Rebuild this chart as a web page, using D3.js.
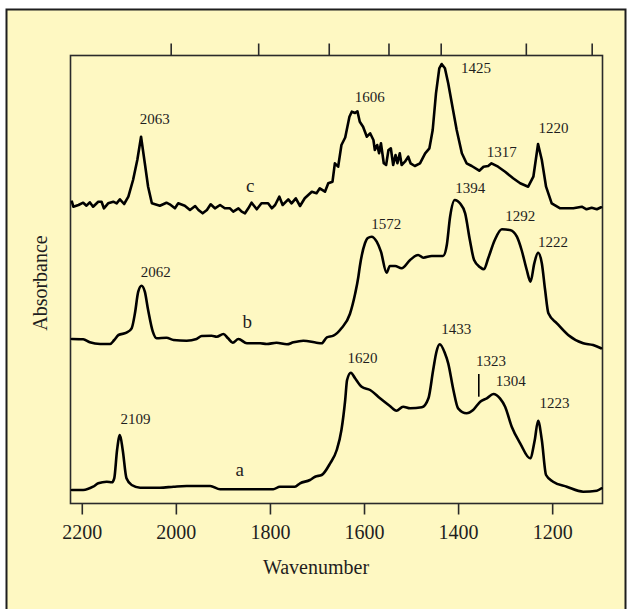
<!DOCTYPE html>
<html><head><meta charset="utf-8">
<script src="https://cdn.jsdelivr.net/npm/d3@7"></script>
<style>html,body{margin:0;padding:0;background:#fff;} svg{display:block;}</style>
</head><body>
<svg id="chart" width="628" height="609"></svg>
<script>
// ---- data (wavenumber, absorbance in arbitrary stacked units) ----
const wnA = [2221,2197,2176,2165,2147,2136,2131,2125,2119,2113,2105,2094,2076,2034,2005,1977,1927,1906,1857,1793,1779,1747,1736,1715,1704,1690,1672,1658,1648,1640,1636,1628,1619,1605,1587,1566,1545,1531,1517,1502,1477,1463,1453,1446,1439,1428,1421,1410,1400,1382,1368,1353,1339,1325,1311,1300,1286,1268,1247,1237,1230,1222,1213,1198,1169,1134,1105,1095];
const absA = [0.135,0.135,0.168,0.202,0.218,0.212,0.252,0.535,0.685,0.535,0.252,0.185,0.158,0.158,0.168,0.175,0.175,0.142,0.142,0.142,0.168,0.168,0.202,0.235,0.268,0.285,0.402,0.535,0.735,1.035,1.235,1.308,1.252,1.168,1.135,1.052,0.975,0.928,0.968,0.952,0.962,1.052,1.335,1.518,1.592,1.502,1.402,1.135,0.952,0.902,0.935,1.018,1.052,1.095,1.052,0.968,0.768,0.602,0.452,0.635,0.828,0.635,0.285,0.218,0.168,0.118,0.128,0.152];

const wnB = [2221,2197,2183,2161,2140,2131,2122,2105,2094,2087,2080,2073,2066,2059,2049,2041,2020,2005,1977,1956,1945,1924,1913,1899,1889,1879,1867,1849,1821,1807,1786,1764,1750,1729,1701,1690,1679,1665,1648,1630,1619,1612,1609,1598,1592,1584,1573,1564,1552,1545,1534,1520,1502,1485,1474,1456,1432,1424,1417,1407,1396,1385,1375,1366,1353,1345,1336,1322,1307,1290,1275,1265,1254,1246,1238,1230,1222,1215,1208,1190,1166,1134,1113,1096];
const absB = [1.645,1.642,1.612,1.595,1.595,1.635,1.685,1.708,1.752,1.902,2.118,2.178,2.118,1.935,1.718,1.652,1.658,1.635,1.628,1.645,1.675,1.678,1.668,1.695,1.652,1.608,1.645,1.602,1.602,1.595,1.608,1.592,1.612,1.628,1.608,1.602,1.662,1.678,1.752,1.895,2.095,2.268,2.368,2.602,2.655,2.668,2.618,2.518,2.308,2.375,2.375,2.352,2.435,2.485,2.458,2.475,2.475,2.585,2.868,3.035,3.002,2.902,2.635,2.435,2.362,2.342,2.452,2.635,2.742,2.735,2.668,2.535,2.335,2.218,2.402,2.508,2.402,2.135,1.902,1.802,1.685,1.602,1.585,1.552];

const wnC = [2221,2218,2207,2197,2190,2183,2176,2165,2158,2153,2144,2133,2126,2119,2110,2101,2091,2082,2074,2066,2059,2051,2034,2020,2013,2002,1995,1981,1970,1959,1952,1943,1934,1926,1917,1906,1896,1885,1878,1867,1860,1853,1846,1839,1828,1818,1804,1796,1789,1780,1773,1761,1754,1745,1736,1726,1711,1701,1694,1683,1676,1667,1662,1655,1648,1640,1631,1626,1619,1614,1609,1602,1594,1587,1580,1577,1572,1568,1564,1558,1553,1548,1543,1538,1533,1529,1524,1520,1513,1506,1501,1492,1481,1470,1461,1454,1447,1440,1435,1428,1421,1412,1403,1392,1382,1371,1355,1346,1336,1329,1315,1300,1283,1268,1251,1240,1230,1222,1213,1201,1183,1155,1137,1127,1116,1105,1096];
const absC = [3.018,2.968,2.985,3.008,2.978,3.012,2.968,3.018,3.018,2.952,3.002,3.018,3.002,3.042,2.995,3.068,3.235,3.435,3.668,3.402,3.168,3.002,2.978,3.008,2.992,2.952,3.002,2.978,2.935,2.975,2.935,2.902,2.935,2.992,2.952,2.985,2.952,2.952,2.918,2.952,2.918,2.902,2.952,3.008,2.942,3.002,3.002,2.952,2.985,3.068,2.985,3.042,3.002,3.052,2.975,3.052,3.118,3.102,3.152,3.118,3.202,3.218,3.402,3.368,3.585,3.66,3.868,3.918,3.905,3.922,3.818,3.768,3.668,3.702,3.635,3.535,3.585,3.502,3.602,3.402,3.385,3.535,3.552,3.385,3.485,3.402,3.502,3.385,3.418,3.468,3.402,3.375,3.402,3.502,3.552,3.735,4.102,4.352,4.395,4.352,4.202,3.968,3.735,3.502,3.402,3.375,3.328,3.368,3.375,3.402,3.368,3.318,3.252,3.202,3.168,3.268,3.595,3.435,3.168,3.002,2.952,2.952,2.968,2.942,2.958,2.942,2.962];

// curve letters and their positions (data coordinates)
const curveNames = ["a","b","c"];
const nameWn = [1864,1848,1842];
const nameAbs = [0.275,1.752,3.118];

// peak annotations
const peakText = ["2063","1606","1425","1317","1220","2062","1572","1394","1292","1222","2109","1620","1433","1323","1304","1223"];
const peakWn  = [2045,1588,1362,1307,1197,2043,1553,1374,1268,1198,2086,1603,1404,1330,1288,1195];
const peakAbs = [3.792,4.012,4.302,3.462,3.702,2.268,2.745,3.105,2.825,2.568,0.795,1.402,1.695,1.375,1.175,0.958];
// shoulder marker for 1323
const markWn = 1356;
const markAbs = [1.295,1.068];

const xTickValues = [2200,2000,1800,1600,1400,1200];
// top-edge ticks (unlabeled wavelength marks, 5 ... 9 µm), positions in wavenumber units
const topTickWn = [2011,1825,1675,1548,1437,1256,1116];

// ---- drawing ----
const L = 70.5, R = 602.5, T = 55.5, B = 503.5;
const serif = "'Liberation Serif','Times New Roman',serif";
const ink = "#1e1e1e";
const bg = "#fef8c2";

const svg = d3.select("#chart");
svg.append("rect").attr("x",6.5).attr("y",9.5).attr("width",619).attr("height",610)
  .attr("fill",bg).attr("stroke",ink).attr("stroke-width",2);

const x = d3.scaleLinear().domain([2224,1093]).range([L,R]);
const y = d3.scaleLinear().domain([0,4.48]).range([B,T]);

// frame
svg.append("rect").attr("x",L).attr("y",T).attr("width",R-L).attr("height",B-T)
  .attr("fill","none").attr("stroke","#2a2a2a").attr("stroke-width",1.6);

// bottom axis
const gB = svg.append("g").attr("transform",`translate(0,${B})`)
  .call(d3.axisBottom(x).tickValues(xTickValues).tickSize(11).tickSizeOuter(0).tickFormat(d3.format("d")));
gB.select(".domain").remove();
gB.selectAll(".tick line").attr("stroke","#2a2a2a").attr("stroke-width",1.6);
gB.selectAll(".tick text").attr("y",35).attr("dy",0)
  .attr("font-family",serif).attr("font-size",20).attr("fill",ink);

// top axis (unlabeled ticks)
const gT = svg.append("g").attr("transform",`translate(0,${T})`)
  .call(d3.axisTop(x).tickValues(topTickWn).tickSize(12).tickSizeOuter(0).tickFormat(""));
gT.select(".domain").remove();
gT.selectAll(".tick line").attr("stroke","#2a2a2a").attr("stroke-width",1.6);

// axis titles
svg.append("text").attr("x",316).attr("y",574).attr("text-anchor","middle")
  .attr("font-family",serif).attr("font-size",20).attr("fill",ink).text("Wavenumber");
svg.append("text").attr("transform","translate(46.5,283) rotate(-90)").attr("text-anchor","middle")
  .attr("font-family",serif).attr("font-size",20).attr("fill",ink).text("Absorbance");

// spectra
const series = [
  {wn: wnA, ab: absA, curve: d3.curveMonotoneX},
  {wn: wnB, ab: absB, curve: d3.curveMonotoneX},
  {wn: wnC, ab: absC, curve: d3.curveLinear}
];
series.forEach(s => {
  const pts = s.wn.map((w,i) => [w, s.ab[i]]);
  const line = d3.line().x(d => x(d[0])).y(d => y(d[1])).curve(s.curve);
  svg.append("path").attr("d", line(pts)).attr("fill","none")
    .attr("stroke","#000").attr("stroke-width",2.6)
    .attr("stroke-linejoin","round").attr("stroke-linecap","round");
});

// curve letters
curveNames.forEach((n,i) => {
  svg.append("text").attr("x",x(nameWn[i])).attr("y",y(nameAbs[i])).attr("text-anchor","middle")
    .attr("font-family",serif).attr("font-size",19).attr("fill",ink).text(n);
});

// peak labels
peakText.forEach((t,i) => {
  svg.append("text").attr("x",x(peakWn[i])).attr("y",y(peakAbs[i])).attr("text-anchor","middle")
    .attr("font-family",serif).attr("font-size",15).attr("fill",ink).text(t);
});
svg.append("line").attr("x1",x(markWn)).attr("x2",x(markWn))
  .attr("y1",y(markAbs[0])).attr("y2",y(markAbs[1]))
  .attr("stroke","#000").attr("stroke-width",1.6);
</script>
</body></html>
